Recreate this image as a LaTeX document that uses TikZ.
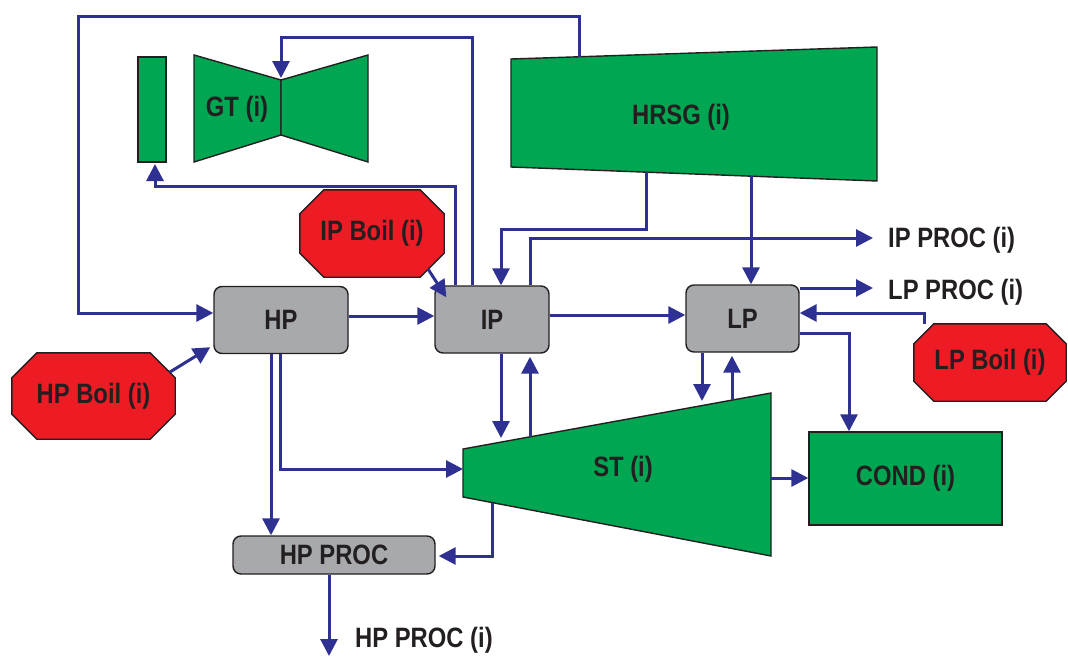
\documentclass[tikz,border=0pt]{standalone}
\usepackage{fontspec}
\newfontfamily\lblfont{Liberation Sans}[FakeStretch=0.85]
\usetikzlibrary{arrows.meta,calc,backgrounds}
\definecolor{cgreen}{HTML}{00A651}
\definecolor{cred}{HTML}{ED1C24}
\definecolor{cgrey}{HTML}{A7A9AC}
\definecolor{fblue}{HTML}{2E3192}
\definecolor{ink}{HTML}{231F20}
\newcommand\octshape[2]{%
  \draw[draw=ink, line width=1.4pt, fill=cred]
    ($(#1.north west)+(#2,0)$) -- ($(#1.north east)+(-#2,0)$) --
    ($(#1.north east)+(0,#2)$) -- ($(#1.south east)+(0,-#2)$) --
    ($(#1.south east)+(-#2,0)$) -- ($(#1.south west)+(#2,0)$) --
    ($(#1.south west)+(0,-#2)$) -- ($(#1.north west)+(0,#2)$) -- cycle;}
\begin{document}
\begin{tikzpicture}[x=1pt,y=-1pt,
  lbl/.style={font=\lblfont\bfseries\fontsize{28}{30}\selectfont, text=ink, inner sep=0pt},
  blk/.style={lbl, draw=ink, line width=1.4pt, fill=cgrey, rounded corners=8pt},
  octa/.style={lbl},
  shp/.style={draw=ink, line width=1.4pt, fill=cgreen},
  flow/.style={draw=fblue, line width=3pt, -{Triangle[length=17pt,width=17pt]}},
]
\useasboundingbox (0,0) rectangle (1068,656);

% green equipment drawn directly
\draw[shp] (138,57) rectangle (166,162);
\draw[shp] (194,55) -- (281,80) -- (281,135) -- (194,162) -- cycle;
\draw[shp] (281,80) -- (368,55) -- (368,162) -- (281,135) -- cycle;
\draw[shp] (511,59) -- (877,47) -- (877,181) -- (511,167) -- cycle;
\draw[shp] (463,449) -- (771,393) -- (771,556) -- (463,497) -- cycle;

\node[lbl] (gtl) at (237,109) {GT (i)};
\node[lbl] (hrsgl) at (681,117) {HRSG (i)};
\node[lbl] (stl) at (623,469) {ST (i)};

% boxes
\node[blk, minimum width=134pt, minimum height=67pt] (HP) at (281,320) {HP};
\node[blk, minimum width=114pt, minimum height=67pt] (IP) at (492,319.5) {IP};
\node[blk, minimum width=113pt, minimum height=67pt] (LP) at (742.5,318.5) {LP};
\node[blk, minimum width=202pt, minimum height=38pt] (HPPROC) at (334,555) {HP PROC};
\node[lbl, draw=ink, line width=1.4pt, fill=cgreen, minimum width=193pt, minimum height=93pt] (COND) at (905.5,478.5) {COND (i)};

% boilers (octagons)
\node[octa, minimum width=144pt, minimum height=87pt] (IPB) at (372,233.5) {IP Boil (i)};
\node[octa, minimum width=163pt, minimum height=86pt] (HPB) at (93.5,396) {HP Boil (i)};
\node[octa, minimum width=152pt, minimum height=77pt] (LPB) at (990,362.5) {LP Boil (i)};
\begin{scope}[on background layer]
  \octshape{IPB}{24}
  \octshape{HPB}{25}
  \octshape{LPB}{20}
\end{scope}

\node[lbl, anchor=west] (ipproc) at (888,240) {IP PROC (i)};
\node[lbl, anchor=west] (lpproc) at (888,292) {LP PROC (i)};
\node[lbl, anchor=west] (hpproc) at (355,640) {HP PROC (i)};

% connection points on drawn shapes
\coordinate (hrsgT) at (579,56.8);
\coordinate (hrsgB1) at (646,172);
\coordinate (hrsgB2) at (751,176);
\coordinate (gtw) at (281,78);
\coordinate (cmpB) at (155,164);
\coordinate (stT1) at (501,438);
\coordinate (stT2) at (530,437);
\coordinate (stT3) at (702,401);
\coordinate (stT4) at (732,400);
\coordinate (stB) at (492,503);
\coordinate (stL) at (463,469);
\coordinate (stR) at (771,478);
\coordinate (outHP) at (329,656);
\coordinate (ipbOut) at (428,269);
\coordinate (hpbOut) at (170,372);

% connectors
\draw[flow] (hrsgT) -- (579,16) -- (78,16) -- (78,313) -- (HP.west |- 0,313);
\draw[flow] (472,0 |- IP.north) -- (472,37) -- (281,37) -- (gtw);
\draw[flow] (455,0 |- IP.north) -- (455,186) -- (155,186) -- (cmpB);
\draw[flow] (ipbOut) -- ($(IP.north west)+(12,12)$);
\draw[flow] (hrsgB1) -- (646,229) -- (501,229) -- (501,0 |- IP.north);
\draw[flow] (hrsgB2) -- (751,0 |- LP.north);
\draw[flow] (530,0 |- IP.north) -- (530,238) -- ($(ipproc.west |- 0,238)+(-15,0)$);
\draw[flow] (LP.east |- 0,288) -- ($(lpproc.west |- 0,288)+(-15,0)$);
\draw[flow] (HP.east |- 0,316) -- (IP.west |- 0,316);
\draw[flow] (IP.east |- 0,315) -- (LP.west |- 0,315);
\draw[flow] (924,0 |- LPB.north) -- (924,313) -- (LP.east |- 0,313);
\draw[flow] (LP.east |- 0,333) -- (849,333) -- (849,0 |- COND.north);
\draw[flow] (stR) -- (COND.west |- stR);
\draw[flow] (501,0 |- IP.south) -- (stT1);
\draw[flow, shorten >=3pt] (stT2) -- (530,0 |- IP.south);
\draw[flow] (702,0 |- LP.south) -- (stT3);
\draw[flow, shorten >=3pt] (stT4) -- (732,0 |- LP.south);
\draw[flow] (hpbOut) -- ($(HP.south west)+(-3,-7)$);
\draw[flow] (271,0 |- HP.south) -- (271,0 |- HPPROC.north);
\draw[flow] (280,0 |- HP.south) -- (280,469) -- (stL);
\draw[flow, shorten >=3pt] (stB) -- (492,556) -- (HPPROC.east |- 0,556);
\draw[flow] (329,0 |- HPPROC.south) -- (outHP);
\end{tikzpicture}
\end{document}
